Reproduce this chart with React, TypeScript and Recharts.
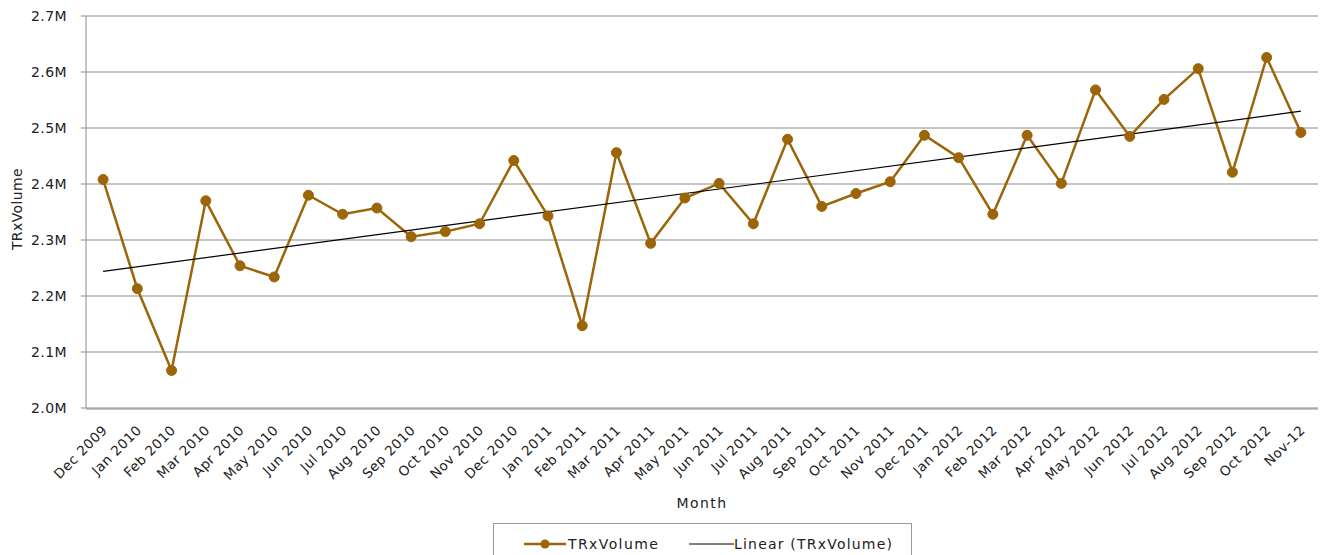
import React from 'react';
import { LineChart, Line, XAxis, YAxis, CartesianGrid, Legend } from 'recharts';

const months: string[] = [
  'Dec 2009', 'Jan 2010', 'Feb 2010', 'Mar 2010', 'Apr 2010', 'May 2010', 'Jun 2010',
  'Jul 2010', 'Aug 2010', 'Sep 2010', 'Oct 2010', 'Nov 2010', 'Dec 2010',
  'Jan 2011', 'Feb 2011', 'Mar 2011', 'Apr 2011', 'May 2011', 'Jun 2011',
  'Jul 2011', 'Aug 2011', 'Sep 2011', 'Oct 2011', 'Nov 2011', 'Dec 2011',
  'Jan 2012', 'Feb 2012', 'Mar 2012', 'Apr 2012', 'May 2012', 'Jun 2012',
  'Jul 2012', 'Aug 2012', 'Sep 2012', 'Oct 2012', 'Nov-12',
];

const trxVolume: number[] = [
  2408000, 2213000, 2067000, 2370000, 2254000, 2234000, 2380000,
  2346000, 2357000, 2306000, 2315000, 2329000, 2442000,
  2343000, 2147000, 2456000, 2294000, 2375000, 2401000,
  2329000, 2480000, 2360000, 2383000, 2404000, 2487000,
  2447000, 2346000, 2487000, 2401000, 2568000, 2485000,
  2551000, 2606000, 2421000, 2626000, 2492000,
];

// Linear trendline endpoints
const trendStart = 2244000;
const trendEnd = 2530000;

const yTicks: number[] = [2000000, 2100000, 2200000, 2300000, 2400000, 2500000, 2600000, 2700000];

const data = months.map((m, i) => ({
  idx: i,
  month: m,
  volume: trxVolume[i],
  trend: i === 0 ? trendStart : i === months.length - 1 ? trendEnd : null,
}));

const labelTicks = months.map((_, i) => i);
const markTicks = [...months.map((_, i) => i - 0.5), months.length - 0.5];

const FONT = 'DejaVu Sans, Verdana, sans-serif';
const LINE_COLOR = '#9C6508';
const GRID = '#8a8a8a';
const TEXT = '#222';

const MonthTick = (props: any) => {
  const { x, y, payload } = props;
  const label = months[payload.value];
  const ax = x + 5;
  const ay = y + 15;
  return (
    <text
      x={ax}
      y={ay}
      transform={`rotate(-45, ${ax}, ${ay})`}
      textAnchor="end"
      fontFamily={FONT}
      fontSize={13.5}
      letterSpacing={0.5}
      fill={TEXT}
    >
      {label}
    </text>
  );
};

const LegendContent = () => (
  <div
    style={{
      position: 'absolute',
      left: 493,
      top: 523,
      width: 419,
      height: 40,
      border: '1px solid #999',
      background: '#fff',
      boxSizing: 'border-box',
    }}
  >
    <svg width={419} height={40} style={{ position: 'absolute', left: 0, top: 0 }}>
      <line x1={30} y1={20} x2={72} y2={20} stroke={LINE_COLOR} strokeWidth={2.5} />
      <circle cx={51} cy={20} r={4.5} fill={LINE_COLOR} />
      <text x={74} y={25} fontFamily={FONT} fontSize={14} letterSpacing={1.4} fill={TEXT}>TRxVolume</text>
      <line x1={195} y1={20} x2={240} y2={20} stroke="#000" strokeWidth={1} />
      <text x={240} y={25} fontFamily={FONT} fontSize={14} letterSpacing={1.2} fill={TEXT}>Linear (TRxVolume)</text>
    </svg>
  </div>
);

export default function App() {
  return (
    <div style={{ position: 'absolute', left: 0, top: 0, width: 1326, height: 555, background: '#fff' }}>
      <LineChart
        width={1326}
        height={555}
        data={data}
        margin={{ top: 16, right: 8, bottom: 145, left: 0 }}
      >
        <CartesianGrid vertical={false} stroke={GRID} strokeWidth={1} />
        <XAxis
          xAxisId="marks"
          dataKey="idx"
          type="number"
          domain={[-0.5, months.length - 0.5]}
          ticks={markTicks}
          interval={0}
          tick={false}
          tickSize={5}
          tickLine={{ stroke: GRID }}
          axisLine={{ stroke: GRID }}
          height={1}
        />
        <XAxis
          xAxisId="lbl"
          dataKey="idx"
          type="number"
          domain={[-0.5, months.length - 0.5]}
          ticks={labelTicks}
          interval={0}
          tickLine={false}
          axisLine={false}
          height={1}
          tick={<MonthTick />}
          label={{ value: 'Month', position: 'bottom', offset: 89, fontFamily: FONT, fontSize: 14, letterSpacing: 1.4, fill: TEXT }}
        />
        <YAxis
          domain={[2000000, 2700000]}
          ticks={yTicks}
          interval={0}
          width={86}
          tickSize={5}
          tickMargin={14}
          tickLine={{ stroke: GRID }}
          axisLine={{ stroke: GRID }}
          tick={{ fontFamily: FONT, fontSize: 14, letterSpacing: 0.4, fill: TEXT }}
          tickFormatter={(v: number) => (v / 1000000).toFixed(1) + 'M'}
          label={{
            content: () => (
              <text
                x={22}
                y={209}
                transform="rotate(-90, 22, 209)"
                textAnchor="middle"
                fontFamily={FONT}
                fontSize={14}
                letterSpacing={0.4}
                fill={TEXT}
              >
                TRxVolume
              </text>
            ),
          }}
        />
        <Line
          xAxisId="lbl"
          dataKey="volume"
          stroke={LINE_COLOR}
          strokeWidth={2.5}
          dot={{ r: 5, fill: LINE_COLOR, stroke: LINE_COLOR, strokeWidth: 1 }}
          activeDot={false}
          isAnimationActive={false}
          name="TRxVolume"
        />
        <Line
          xAxisId="lbl"
          dataKey="trend"
          stroke="#000"
          strokeWidth={1.2}
          dot={false}
          activeDot={false}
          connectNulls
          isAnimationActive={false}
          name="Linear (TRxVolume)"
        />
        <Legend content={() => <LegendContent />} wrapperStyle={{ position: 'absolute', left: 0, top: 0, width: 0, height: 0 }} />
      </LineChart>
    </div>
  );
}
